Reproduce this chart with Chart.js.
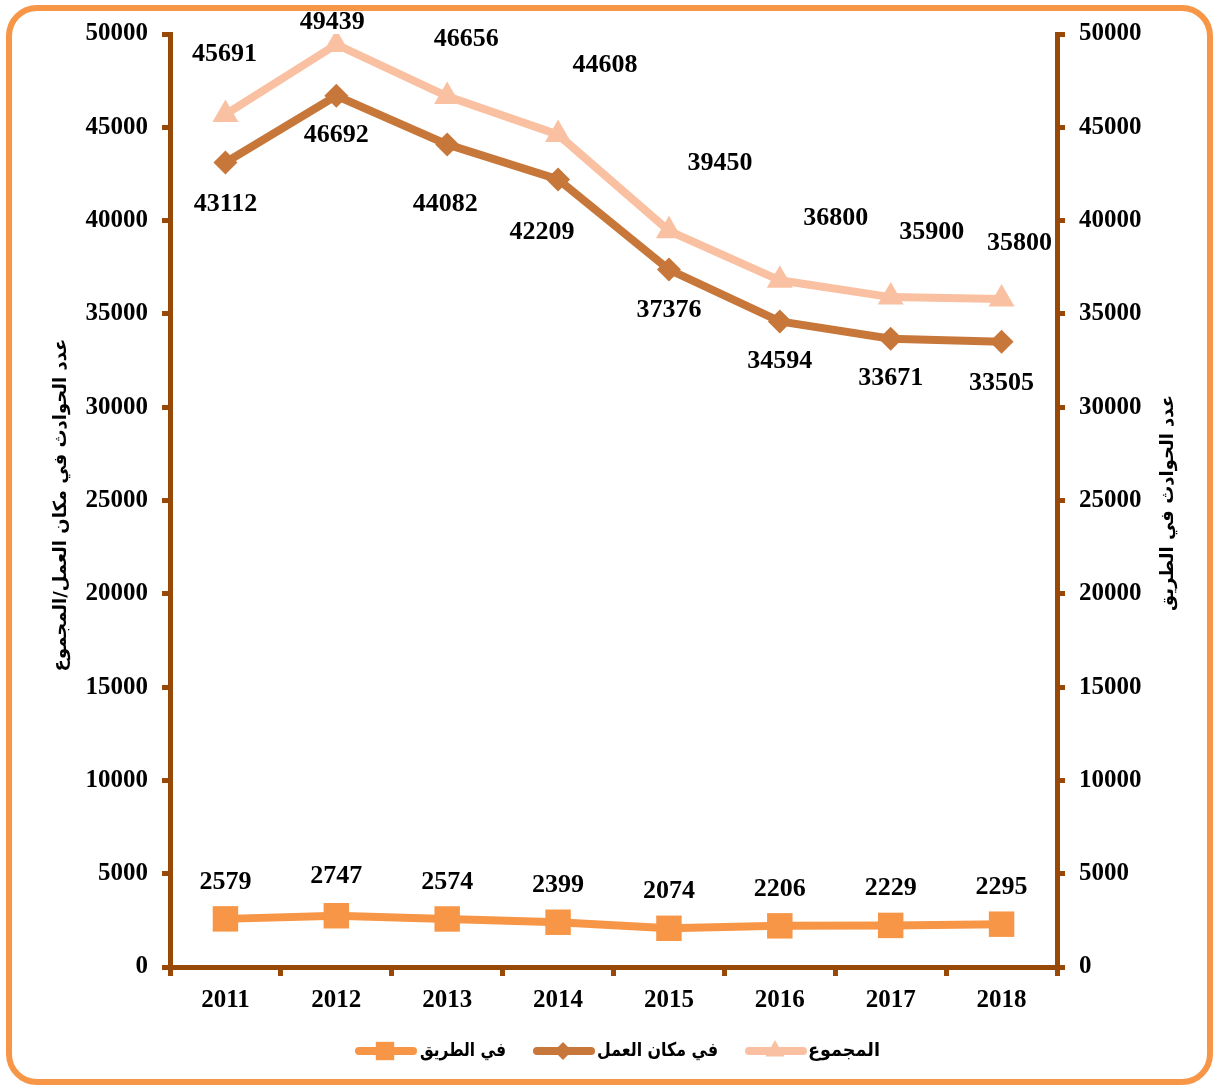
<!DOCTYPE html>
<html>
<head>
<meta charset="utf-8">
<style>
html,body{margin:0;padding:0;background:#fff;}
#wrap{position:relative;width:1219px;height:1090px;}
canvas{display:block;}
</style>
<script src="https://cdn.jsdelivr.net/npm/chart.js@4"></script>
</head>
<body>
<div id="wrap"><canvas id="c" width="1219" height="1090"></canvas></div>
<script>
const years = ['2011','2012','2013','2014','2015','2016','2017','2018'];
const roadValues = [2579, 2747, 2574, 2399, 2074, 2206, 2229, 2295];
const workValues = [43112, 46692, 44082, 42209, 37376, 34594, 33671, 33505];
const totalValues = [45691, 49439, 46656, 44608, 39450, 36800, 35900, 35800];
const seriesNames = ['في الطريق', 'في مكان العمل', 'المجموع'];
const leftTitle = 'عدد الحوادث في مكان العمل/المجموع';
const rightTitle = 'عدد الحوادث في الطريق';

const AXIS = '#984807';
const C_ROAD = '#F79646';
const C_WORK = '#C8773A';
const C_TOTAL = '#F9C0A2';
const SERIF = '"Liberation Serif", "Times New Roman", serif';
const numFont = 'bold 26px ' + SERIF;
const arFont = 'bold 18px "DejaVu Sans", "Noto Sans", sans-serif';
const legFont = 'bold 19px "DejaVu Sans", "Noto Sans", sans-serif';

// label offsets (dx, dy) in pixels relative to each point
const labelOffsets = {
  0: [[0,-37],[0,-39],[0,-37],[0,-37],[0,-37],[0,-37],[0,-37],[0,-37]],
  1: [[0,42],[0,40],[-2,60],[-16,53],[0,41],[0,40],[0,40],[0,41]],
  2: [[-1,-60],[-4,-22],[19,-57],[47,-69],[51,-68],[56,-62],[41,-65],[18,-56]]
};

const decor = {
  id: 'decor',
  beforeDraw(chart) {
    const ctx = chart.ctx;
    ctx.save();
    ctx.fillStyle = '#fff';
    ctx.fillRect(0, 0, chart.width, chart.height);
    ctx.strokeStyle = '#F79646';
    ctx.lineWidth = 6;
    ctx.beginPath();
    ctx.roundRect(9, 8, 1201, 1074, 28);
    ctx.stroke();
    ctx.restore();
  },
  afterDatasetsDraw(chart) {
    const ctx = chart.ctx;
    ctx.save();
    ctx.fillStyle = '#000';
    ctx.font = numFont;
    ctx.textAlign = 'center';
    ctx.textBaseline = 'middle';
    chart.data.datasets.forEach((ds, i) => {
      const meta = chart.getDatasetMeta(i);
      meta.data.forEach((pt, j) => {
        const off = labelOffsets[i][j];
        ctx.fillText(String(ds.data[j]), pt.x + off[0], pt.y + off[1]);
      });
    });
    // axis titles
    ctx.font = arFont;
    ctx.direction = 'rtl';
    ctx.save();
    ctx.translate(61, 505);
    ctx.rotate(-Math.PI / 2);
    ctx.fillText(leftTitle, 0, 0);
    ctx.restore();
    ctx.save();
    ctx.translate(1168, 503);
    ctx.rotate(-Math.PI / 2);
    ctx.fillText(rightTitle, 0, 0);
    ctx.restore();
    // legend
    const items = [
      {name: seriesNames[0], color: C_ROAD, style: 'rect', r: 13, x: 355, tx: 420, tw: 86},
      {name: seriesNames[1], color: C_WORK, style: 'rectRot', r: 9, x: 533, tx: 597, tw: 121},
      {name: seriesNames[2], color: C_TOTAL, style: 'triangle', r: 11, x: 745, tx: 808, tw: 72}
    ];
    const ly = 1051;
    ctx.font = legFont;
    items.forEach(it => {
      ctx.strokeStyle = it.color;
      ctx.lineWidth = 8;
      ctx.lineCap = 'round';
      ctx.beginPath();
      ctx.moveTo(it.x + 4, ly);
      ctx.lineTo(it.x + 58, ly);
      ctx.stroke();
      ctx.fillStyle = it.color;
      Chart.helpers.drawPoint(ctx, {pointStyle: it.style, radius: it.r, borderWidth: 0}, it.x + 30, ly);
      ctx.fillStyle = '#000';
      ctx.direction = 'rtl';
      ctx.textAlign = 'right';
      const w = ctx.measureText(it.name).width;
      const sx = Math.min(1, it.tw / w);
      ctx.save();
      ctx.translate(it.tx, ly);
      ctx.scale(sx, 1);
      ctx.fillText(it.name, w, 0);
      ctx.restore();
    });
    ctx.restore();
  }
};

const yTicks = {
  color: '#000',
  font: {family: SERIF, size: 25, weight: 'bold'},
  padding: 14,
  stepSize: 5000,
  callback: v => String(v)
};

new Chart(document.getElementById('c'), {
  type: 'line',
  data: {
    labels: years,
    datasets: [
      {label: seriesNames[0], data: roadValues, yAxisID: 'y2', borderColor: C_ROAD, backgroundColor: C_ROAD,
       borderWidth: 8, pointStyle: 'rect', pointRadius: 18, pointBorderWidth: 0, pointBackgroundColor: C_ROAD, tension: 0},
      {label: seriesNames[1], data: workValues, yAxisID: 'y', borderColor: C_WORK, backgroundColor: C_WORK,
       borderWidth: 8, pointStyle: 'rectRot', pointRadius: 12, pointBorderWidth: 0, pointBackgroundColor: C_WORK, tension: 0},
      {label: seriesNames[2], data: totalValues, yAxisID: 'y', borderColor: C_TOTAL, backgroundColor: C_TOTAL,
       borderWidth: 8, pointStyle: 'triangle', pointRadius: 15, pointBorderWidth: 0, pointBackgroundColor: C_TOTAL, tension: 0}
    ]
  },
  options: {
    responsive: false,
    animation: false,
    layout: {padding: {top: 34, bottom: 0, left: 0, right: 0}},
    plugins: {legend: {display: false}, tooltip: {enabled: false}},
    scales: {
      x: {
        offset: true,
        grid: {offset: true, drawOnChartArea: false, drawTicks: true, tickLength: 9, lineWidth: 5, color: AXIS},
        border: {color: AXIS, width: 5},
        ticks: {color: '#000', font: {family: SERIF, size: 25, weight: 'bold'}, padding: 10},
        afterFit(s) { s.height = 123; }
      },
      y: {
        position: 'left', min: 0, max: 50000,
        grid: {drawOnChartArea: false, drawTicks: true, tickLength: 8, lineWidth: 5, color: AXIS},
        border: {color: AXIS, width: 5},
        ticks: yTicks,
        afterFit(s) { s.width = 170; }
      },
      y2: {
        position: 'right', min: 0, max: 50000,
        grid: {drawOnChartArea: false, drawTicks: true, tickLength: 8, lineWidth: 5, color: AXIS},
        border: {color: AXIS, width: 5},
        ticks: yTicks,
        afterFit(s) { s.width = 162; }
      }
    }
  },
  plugins: [decor]
});
</script>
</body>
</html>
